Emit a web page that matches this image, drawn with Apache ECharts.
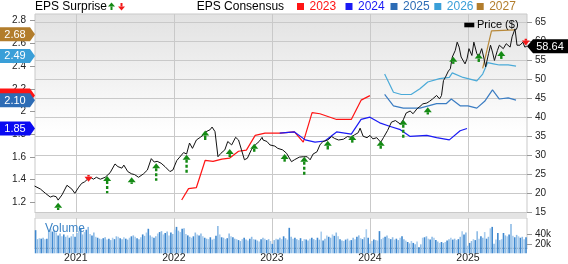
<!DOCTYPE html>
<html><head><meta charset="utf-8">
<script src="https://cdn.jsdelivr.net/npm/echarts@6/dist/echarts.min.js"></script>
<style>html,body{margin:0;padding:0;background:#fff}#c{width:568px;height:264px}</style>
</head><body><div id="c"></div>
<script>
const FONT = "'Liberation Sans', Arial, sans-serif";
const xMin = 2020.584, xMax = 2025.602;
const yearTicks = [2021, 2022, 2023, 2024, 2025];

const priceDates = [
2020.58,2020.64,2020.69,2020.74,2020.77,2020.80,2020.82,2020.86,2020.91,2020.96,
2020.99,2021.03,2021.06,2021.09,2021.12,2021.15,2021.18,2021.21,2021.25,2021.30,
2021.35,2021.40,2021.43,2021.47,2021.49,2021.53,2021.57,2021.60,2021.64,2021.66,
2021.69,2021.73,2021.77,2021.80,2021.83,2021.87,2021.91,2021.96,2021.99,2022.03,
2022.06,2022.10,2022.13,2022.16,2022.19,2022.23,2022.27,2022.30,2022.33,2022.37,
2022.39,2022.42,2022.45,2022.48,2022.52,2022.55,2022.59,2022.63,2022.66,2022.69,
2022.72,2022.75,2022.79,2022.83,2022.87,2022.90,2022.91,2022.95,2022.98,2023.03,
2023.06,2023.11,2023.15,2023.20,2023.23,2023.28,2023.32,2023.36,2023.39,2023.42,
2023.46,2023.49,2023.52,2023.57,2023.61,2023.64,2023.68,2023.73,2023.77,2023.81,
2023.84,2023.88,2023.90,2023.93,2023.97,2024.00,2024.03,2024.07,2024.11,2024.14,
2024.18,2024.22,2024.26,2024.31,2024.34,2024.37,2024.41,2024.44,2024.48,2024.51,
2024.54,2024.58,2024.61,2024.64,2024.68,2024.71,2024.73,2024.75,2024.77,2024.80,
2024.82,2024.84,2024.87,2024.89,2024.91,2024.93,2024.97,2024.99,2025.01,2025.04,
2025.06,2025.09,2025.11,2025.14,2025.16,2025.18,2025.21,2025.23,2025.25,2025.27,
2025.30,2025.32,2025.36,2025.39,2025.43,2025.45,2025.48,2025.50,2025.53,2025.56,
2025.58,2025.60];
const priceValues = [
21.9,21.1,20.0,19.0,19.3,19.1,18.2,19.6,22.1,21.1,
20.0,21.6,22.6,23.0,23.7,24.2,23.7,24.2,23.7,24.2,
25.4,27.7,27.0,26.6,27.4,25.7,25.1,24.9,24.2,24.6,
25.1,26.1,29.1,28.2,28.4,27.9,27.0,25.7,26.1,28.6,
29.5,30.7,30.3,33.2,31.8,34.0,34.7,35.3,36.2,36.7,
37.4,36.2,29.6,30.5,31.4,33.6,32.7,34.7,34.0,31.4,
28.8,29.2,31.4,32.7,33.6,34.7,34.0,33.6,32.7,32.4,
31.8,31.4,30.5,28.3,28.8,29.5,29.6,29.6,28.8,30.3,
30.9,32.7,33.6,34.0,34.9,34.4,34.0,34.2,34.9,34.7,
35.3,35.9,37.1,35.0,34.6,35.2,34.3,34.6,33.4,34.7,
36.5,38.7,39.1,38.2,39.3,41.1,41.6,40.9,42.2,42.8,
43.5,43.7,44.2,44.8,45.7,44.8,45.7,49.6,50.5,52.1,
52.7,55.8,57.5,59.7,58.4,55.8,54.0,55.3,58.0,56.2,
59.7,56.7,55.8,58.0,55.8,53.2,56.7,58.9,57.1,54.9,
57.5,58.9,58.0,59.3,58.4,61.1,63.2,58.9,58.9,59.7,
58.4,58.64];
const lastPrice = 58.64;

const eps2023Dates = [2022.08,2022.15,2022.23,2022.32,2022.40,2022.49,2022.57,2022.66,2022.74,2022.83,2022.93,2023.08,2023.23,2023.32,2023.41,2023.49,2023.66,2023.81,2023.91,2024.00];
const eps2023 = [1.22,1.32,1.33,1.57,1.56,1.58,1.59,1.65,1.66,1.79,1.81,1.81,1.82,1.73,1.99,1.98,1.93,1.93,2.10,2.14];
const eps2024Dates = [2023.08,2023.23,2023.34,2023.44,2023.54,2023.66,2023.81,2023.91,2024.00,2024.10,2024.20,2024.31,2024.41,2024.58,2024.68,2024.81,2024.92,2024.99];
const eps2024 = [1.81,1.82,1.75,1.73,1.74,1.82,1.80,1.93,1.95,1.90,1.87,1.84,1.78,1.79,1.77,1.75,1.83,1.85];
const eps2025Dates = [2024.15,2024.24,2024.34,2024.51,2024.68,2024.78,2024.83,2024.92,2025.00,2025.09,2025.17,2025.25,2025.32,2025.41,2025.49];
const eps2025 = [2.15,2.05,2.03,2.03,2.07,2.07,2.11,2.05,2.05,2.03,2.09,2.19,2.11,2.12,2.10];
const eps2026Dates = [2024.15,2024.24,2024.32,2024.42,2024.51,2024.59,2024.71,2024.81,2024.84,2024.95,2025.09,2025.15,2025.20,2025.26,2025.32,2025.41,2025.49];
const eps2026 = [2.33,2.17,2.15,2.15,2.20,2.26,2.29,2.30,2.34,2.30,2.27,2.33,2.43,2.42,2.41,2.41,2.40];
const eps2027Dates = [2025.15,2025.24,2025.48];
const eps2027 = [2.38,2.71,2.72];

const badgeValues = [2.14, 2.10, 1.85, 2.49, 2.68];
const badgeLabels = ['', '2.10', '1.85', '2.49', '2.68'];
const badgeColors = ['#ff1414', '#2d6cb5', '#0a0af2', '#3a9fd8', '#b27d2c'];

const surpriseDates = [2020.82,2021.13,2021.32,2021.57,2021.82,2022.13,2022.32,2022.57,2022.82,2023.13,2023.33,2023.57,2023.82,2024.11,2024.34,2024.59,2024.85,2025.11,2025.34,2025.59];
const surpriseTip  = [17.5,23.05,24.55,24.2,27.9,30.1,36.5,31.6,33.0,30.3,29.6,33.8,35.3,33.8,39.3,42.6,55.9,56.7,57.4,58.8];
const surpriseTail = [15.6,24.8,20.0,22.45,23.3,25.3,34.0,29.5,30.9,28.3,24.8,31.5,33.3,31.7,34.3,40.7,54.0,54.5,55.3,60.6];
const surpriseDir  = [1,-1,1,1,1,1,1,1,1,1,1,1,1,1,1,1,1,1,1,-1];

const volumeStart = 2020.59; // first weekly bar
const volumes = [ // thousands, weekly
49,30,32,31,33,30,31,48,52,46, 50,44,38,42,36,40,35,38,33,36, 41,35,
43,48,52,40,45,50,56,41,38,44, 35,33,31,30,32,34,29,31,28,33, 30,36,35,32,30,34,
31,29,33,36,38,35,32,30,34,40, 37,44,52,38,35,33,36,42,45,47, 40,43,46,38,44,41,
50,56,48,45,52,53,41,38,35,33, 36,44,40,38,42,36,33,31,30,34, 29,31,37,58,40,34,33,30,32,42, 36,34,31,30,28,26,30,33,29,27, 31,35,30,29,27,25,30,33,31,28, 30,26,
20,28,31,29,33,30,36,32,29,54, 35,31,33,30,28,32,26,30,29,27, 31,33,30,28,33,29,46,27,31,38, 35,33,40,37,44,36,30,27,26,29, 31,27,28,33,30,35,38,32,30,34, 51,33,
20,26,29,28,27,47,30,33,35,38, 32,30,34,29,31,28,33,36,30,27, 24,21,26,22,19,25,13,19,33,34, 36,31,29,35,33,28,25,22,24,22, 24,27,30,33,29,31,28,30,35,47, 40,44,
16,22,26,30,28,47,31,36,33,45, 31,35,53,56,20,29,43,28,30,43, 38,36,40,62,37,34,39,36,33,35, 30,34];

const pair = (d, v) => d.map((x, i) => [x, v[i]]);
const WEEK = 7 / 365.25;

function renderArrow(params, api) {
  const x = api.value(0), dir = api.value(3);
  const tip = api.coord([x, api.value(1)]);
  const tail = api.coord([x, api.value(2)]);
  const up = dir > 0;
  const color = up ? '#148a14' : '#f21818';
  const hw = 4, hh = 5;
  const baseY = up ? tip[1] + hh : tip[1] - hh;
  const len = Math.abs(tail[1] - baseY);
  return {type: 'group', children: [
    {type: 'line', shape: {x1: tip[0], y1: baseY, x2: tip[0], y2: tail[1]},
     style: {stroke: color, lineWidth: 2.4, lineDash: len > 6 ? [3, 2] : null}},
    {type: 'polygon', shape: {points: [[tip[0], tip[1]], [tip[0] - hw, baseY], [tip[0] + hw, baseY]]},
     style: {fill: color}}
  ]};
}
function renderBadge(params, api) {
  const p = api.coord([api.value(0), api.value(1)]);
  const i = params.dataIndex, h = 7;
  return {type: 'group', children: [
    {type: 'polygon', shape: {points: [[0, p[1] - h], [p[0] - 5, p[1] - h], [p[0], p[1]], [p[0] - 5, p[1] + h], [0, p[1] + h]]},
     style: {fill: badgeColors[i]}},
    {type: 'text', x: 15, y: p[1] + 0.5, style: {text: badgeLabels[i], fill: '#fff', font: '11px ' + FONT, align: 'center', verticalAlign: 'middle'}}
  ]};
}
function renderPriceBadge(params, api) {
  const p = api.coord([api.value(0), api.value(1)]);
  const h = 7;
  return {type: 'group', children: [
    {type: 'polygon', shape: {points: [[p[0], p[1]], [p[0] + 6, p[1] - h], [568, p[1] - h], [568, p[1] + h], [p[0] + 6, p[1] + h]]},
     style: {fill: '#000'}},
    {type: 'text', x: 550, y: p[1] + 0.5, style: {text: lastPrice.toFixed(2), fill: '#fff', font: '11px ' + FONT, align: 'center', verticalAlign: 'middle'}}
  ]};
}

const chart = echarts.init(document.getElementById('c'), null, {renderer: 'canvas'});
const gridColor = '#c9c9c9';
const hiddenX = (g) => ({type: 'value', gridIndex: g, min: xMin, max: xMax, show: false});
const lbl = {fontSize: 10, color: '#222', fontFamily: FONT};

const legendYears = [
  {t: '2023', c: '#ff1414', x: 297},
  {t: '2024', c: '#1a1af5', x: 345.5},
  {t: '2025', c: '#2d6cb5', x: 390.5},
  {t: '2026', c: '#3a9fd8', x: 434.3},
  {t: '2027', c: '#b27d2c', x: 476.7}
];
const graphics = [
  {type: 'rect', shape: {x: 35, y: 214, width: 492, height: 4}, style: {fill: '#e4e4e4'}, z: 1},
  {type: 'text', x: 35, y: 6.5, style: {text: 'EPS Surprise', font: '12px ' + FONT, fill: '#000', verticalAlign: 'middle'}, z: 5},
  {type: 'polygon', shape: {points: [[111.5, 2.5], [108, 6.5], [115, 6.5]]}, style: {fill: '#148a14'}, z: 5},
  {type: 'rect', shape: {x: 110.5, y: 6.5, width: 2, height: 3.5}, style: {fill: '#148a14'}, z: 5},
  {type: 'polygon', shape: {points: [[121.5, 10.5], [118, 6.5], [125, 6.5]]}, style: {fill: '#f21818'}, z: 5},
  {type: 'rect', shape: {x: 120.5, y: 3, width: 2, height: 3.5}, style: {fill: '#f21818'}, z: 5},
  {type: 'text', x: 196.7, y: 6.5, style: {text: 'EPS Consensus', font: '12px ' + FONT, fill: '#000', verticalAlign: 'middle'}, z: 5},
  {type: 'rect', shape: {x: 464.3, y: 22.7, width: 10, height: 4.6}, style: {fill: '#000'}, z: 5},
  {type: 'text', x: 477, y: 25.2, style: {text: 'Price ($)', font: '11px ' + FONT, fill: '#000', verticalAlign: 'middle'}, z: 5},
  {type: 'text', x: 45, y: 229, style: {text: 'Volume', font: '12px ' + FONT, fill: '#3d84c6', verticalAlign: 'middle'}, z: 5}
];
legendYears.forEach(l => {
  graphics.push({type: 'rect', shape: {x: l.x, y: 3, width: 7, height: 7}, style: {fill: l.c}, z: 5});
  graphics.push({type: 'text', x: l.x + 12.5, y: 6.5, style: {text: l.t, font: '12px ' + FONT, fill: l.c, verticalAlign: 'middle'}, z: 5});
});

chart.setOption({
  animation: false,
  backgroundColor: '#fff',
  textStyle: {fontFamily: FONT},
  grid: [
    {left: 35, right: 41, top: 14, bottom: 51, show: true, borderColor: gridColor, borderWidth: 1,
     backgroundColor: {type: 'linear', x: 0, y: 0, x2: 0, y2: 1, colorStops: [{offset: 0, color: '#e2e2e2'}, {offset: 0.6, color: '#ffffff'}, {offset: 1, color: '#ffffff'}]}},
    {left: 35, right: 41, top: 22, bottom: 51.7},
    {left: 35, right: 41, top: 20.7, bottom: 61.7},
    {left: 35, right: 41, top: 225, bottom: 10.7},
    {left: 35, right: 41, top: 218, bottom: 10.7, show: true, borderColor: gridColor, borderWidth: 1, backgroundColor: '#fff'}
  ],
  xAxis: [
    {type: 'value', gridIndex: 0, min: xMin, max: xMax, axisLabel: {show: false}, axisLine: {show: false},
     axisTick: {show: false, customValues: yearTicks}, splitLine: {show: true, lineStyle: {color: gridColor}}},
    hiddenX(1), hiddenX(2), hiddenX(3),
    {type: 'value', gridIndex: 4, min: xMin, max: xMax,
     axisLabel: {customValues: yearTicks, margin: 5, fontSize: 10.5, color: '#222', fontFamily: FONT, formatter: v => String(Math.round(v))},
     axisLine: {show: true, lineStyle: {color: '#999'}},
     axisTick: {show: false, customValues: yearTicks}, splitLine: {show: true, lineStyle: {color: gridColor}}}
  ],
  yAxis: [
    {type: 'value', gridIndex: 0, min: 0, max: 1, show: false},
    {type: 'value', gridIndex: 1, position: 'right', min: 15, max: 65, interval: 5,
     axisLabel: Object.assign({margin: 8}, lbl), axisLine: {show: false},
     axisTick: {show: true, length: 5, lineStyle: {color: '#999'}},
     splitLine: {show: true, lineStyle: {color: gridColor}}},
    {type: 'value', gridIndex: 2, position: 'left', min: 1.2, max: 2.8, interval: 0.2,
     axisLabel: Object.assign({margin: 9}, lbl), axisLine: {show: false},
     axisTick: {show: true, length: 5, lineStyle: {color: '#999'}}, splitLine: {show: false}},
    {type: 'value', gridIndex: 3, position: 'right', min: 0, max: 60000, interval: 20000,
     axisLabel: Object.assign({margin: 8, formatter: v => v === 0 ? '0' : (v / 1000) + 'k'}, lbl), axisLine: {show: false},
     axisTick: {show: true, length: 5, lineStyle: {color: '#999'}}, splitLine: {show: false}},
    {type: 'value', gridIndex: 4, min: 0, max: 1, show: false}
  ],
  graphic: graphics,
  series: [
    {type: 'bar', name: 'Volume', xAxisIndex: 3, yAxisIndex: 3, clip: false, barWidth: 1.6,
     data: volumes.map((v, i) => ({value: [volumeStart + i * WEEK, v * 1000], itemStyle: {color: i % 3 === 1 ? '#8dbbe6' : (i % 3 === 2 ? '#a9cdee' : '#3f88cf')}}))},
    {type: 'line', name: '2023', xAxisIndex: 2, yAxisIndex: 2, data: pair(eps2023Dates, eps2023), showSymbol: false, lineStyle: {color: '#ff1414', width: 1.2}},
    {type: 'line', name: '2024', xAxisIndex: 2, yAxisIndex: 2, data: pair(eps2024Dates, eps2024), showSymbol: false, lineStyle: {color: '#1a1af5', width: 1.2}},
    {type: 'line', name: '2025', xAxisIndex: 2, yAxisIndex: 2, data: pair(eps2025Dates, eps2025), showSymbol: false, lineStyle: {color: '#3a7cc2', width: 1.2}},
    {type: 'line', name: '2026', xAxisIndex: 2, yAxisIndex: 2, data: pair(eps2026Dates, eps2026), showSymbol: false, lineStyle: {color: '#4aaad8', width: 1.2}},
    {type: 'line', name: '2027', xAxisIndex: 2, yAxisIndex: 2, data: pair(eps2027Dates, eps2027), showSymbol: false, lineStyle: {color: '#b8893a', width: 1.2}},
    {type: 'line', name: 'Price ($)', xAxisIndex: 1, yAxisIndex: 1, data: pair(priceDates, priceValues), showSymbol: false, lineStyle: {color: '#111', width: 1}, z: 3},
    {type: 'custom', name: 'EPS Surprise', xAxisIndex: 1, yAxisIndex: 1, renderItem: renderArrow, z: 4,
     data: surpriseDates.map((d, i) => [d, surpriseTip[i], surpriseTail[i], surpriseDir[i]])},
    {type: 'custom', name: 'badges', xAxisIndex: 2, yAxisIndex: 2, renderItem: renderBadge, z: 6,
     data: badgeValues.map(v => [xMin, v])},
    {type: 'custom', name: 'last', xAxisIndex: 1, yAxisIndex: 1, renderItem: renderPriceBadge, z: 6,
     data: [[xMax, lastPrice]]}
  ]
});
</script></body></html>
